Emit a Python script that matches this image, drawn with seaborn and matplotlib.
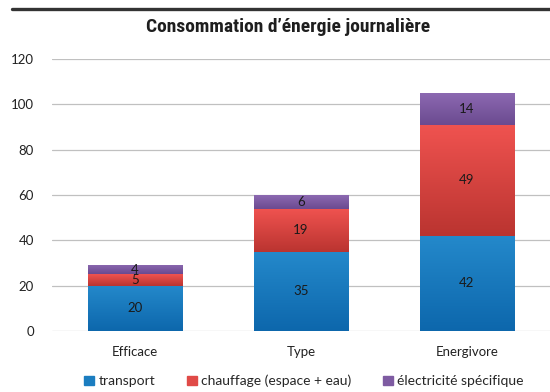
import numpy as np
import pandas as pd
import matplotlib
matplotlib.use("Agg")
import matplotlib.pyplot as plt
from matplotlib.lines import Line2D
from matplotlib.colors import LinearSegmentedColormap
import seaborn as sns

categories = ["Efficace", "Type", "Energivore"]
series = ["transport", "chauffage (espace + eau)", "électricité spécifique"]
transport = [20, 35, 42]
chauffage = [5, 19, 49]
electricite = [4, 6, 14]
yticks = [0, 20, 40, 60, 80, 100, 120]
title = "Consommation d\u2019énergie journalière"

colors_top = ["#2489CB", "#F05350", "#8C69B1"]
colors_bot = ["#0D67AC", "#BA3430", "#6B4A90"]
colors_mid = ["#1B7DC0", "#E04A47", "#7E5BA2"]

sns.set_theme(style="white")
plt.rcParams["font.family"] = ["Lato", "DejaVu Sans"]

fig = plt.figure(figsize=(5.5, 3.92), dpi=100)
ax = fig.add_axes([52/550, 1-331/392, 1-52/550, (331-59)/392])

values = [transport, chauffage, electricite]
bottom = np.zeros(len(categories))
containers = []
for i, (name, vals) in enumerate(zip(series, values)):
    df = pd.DataFrame({"cat": categories, "val": vals})
    sns.barplot(data=df, x="cat", y="val", ax=ax, color=colors_mid[i],
                bottom=bottom.copy(), width=0.57, label=name,
                saturation=1, linewidth=0, errorbar=None)
    containers.append(ax.containers[-1])
    bottom = bottom + np.array(vals)

for i, cont in enumerate(containers):
    cmap = LinearSegmentedColormap.from_list("g", [colors_bot[i], colors_top[i]])
    grad = np.linspace(0, 1, 256).reshape(-1, 1)
    for p in cont.patches:
        x0, y0 = p.get_x(), p.get_y()
        w, h = p.get_width(), p.get_height()
        im = ax.imshow(grad, cmap=cmap, origin="lower", aspect="auto",
                       extent=(x0, x0 + w, y0, y0 + h), zorder=p.get_zorder() + 0.1,
                       interpolation="bilinear")
        im.set_clip_path(p)
    ax.bar_label(cont, label_type="center", fontsize=9.5, color="#1a1a1a")

for t in ax.texts:
    t.set_zorder(10)

ax.set_xlim(-0.5, 2.5)
ax.set_ylim(0, 120)
ax.set_yticks(yticks)
ax.set_yticklabels([str(v) for v in yticks])
ax.set_xlabel("")
ax.set_ylabel("")
ax.yaxis.grid(True, color="#C0C0C0", linewidth=0.9)
ax.set_axisbelow(True)
for s in ax.spines.values():
    s.set_visible(False)
ax.tick_params(axis="both", length=0, labelsize=9.5, colors="#222222")
ax.tick_params(axis="y", pad=13)
ax.tick_params(axis="x", pad=11)
if ax.get_legend() is not None:
    ax.get_legend().remove()

handles = [plt.Rectangle((0, 0), 1, 1, color=c) for c in colors_mid]
fig.legend(handles, series, loc="center", bbox_to_anchor=(304/550, 1-381/392),
           ncol=3, frameon=False, fontsize=10, handlelength=0.7, handleheight=0.7,
           handletextpad=0.3, columnspacing=2.3)

fig.text(288/550, 1-27/392, title, ha="center", va="center", fontsize=14,
         fontweight="bold", family=["Roboto Condensed", "DejaVu Sans"], color="#1e1e1e")
fig.add_artist(Line2D([12/550, 1.0], [1-8.5/392, 1-8.5/392], color="#333333",
                      linewidth=2.4, transform=fig.transFigure))

fig.savefig("out.png", dpi=100)
